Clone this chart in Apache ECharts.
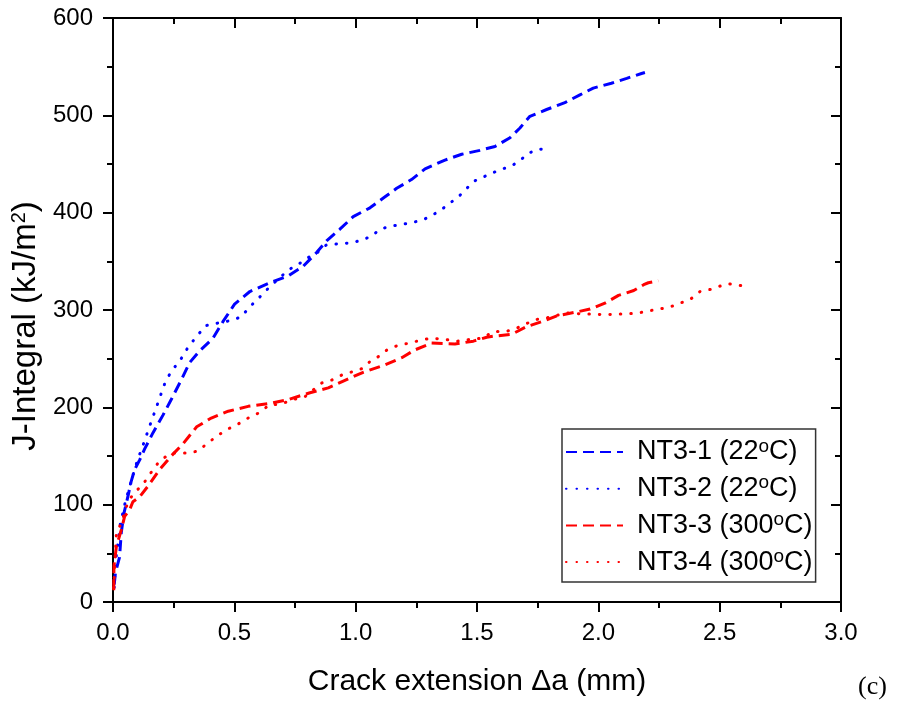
<!DOCTYPE html>
<html>
<head>
<meta charset="utf-8">
<script src="https://cdn.jsdelivr.net/npm/echarts@6/dist/echarts.min.js"></script>
<style>
html,body{margin:0;padding:0;background:#fff;}
#chart{width:901px;height:707px;}
</style>
</head>
<body>
<div id="chart"></div>
<script>
// ---- data ----
var seriesNames = ['NT3-1 (22oC)', 'NT3-2 (22oC)', 'NT3-3 (300oC)', 'NT3-4 (300oC)'];
var legendLabels = ['NT3-1 (22{sup|o}C)', 'NT3-2 (22{sup|o}C)', 'NT3-3 (300{sup|o}C)', 'NT3-4 (300{sup|o}C)'];
var xTickLabels = ['0.0', '0.5', '1.0', '1.5', '2.0', '2.5', '3.0'];
var yTickLabels = ['0', '100', '200', '300', '400', '500', '600'];

var nt31x = [0.005,0.01,0.027,0.034,0.045,0.062,0.075,0.089,0.11,0.13,0.165,0.206,0.24,0.281,0.316,0.357,0.412,0.453,0.501,0.564,0.647,0.722,0.784,0.839,0.88,0.935,0.99,1.059,1.114,1.169,1.23,1.286,1.368,1.437,1.512,1.574,1.636,1.677,1.718,1.787,1.862,1.924,1.979,2.054,2.117,2.178,2.192];
var nt31y = [18,30,46,71,91,109,124,136,146,157,174,192,208,228,246,258,271,288,306,319,328,335,345,359,371,383,396,405,415,425,434,445,454,460,464,468,477,487,499,506,513,521,528,533,538,543,544];

var nt32x = [0.005,0.01,0.02,0.03,0.05,0.077,0.1,0.125,0.15,0.18,0.214,0.24,0.276,0.31,0.345,0.383,0.44,0.482,0.53,0.558,0.592,0.626,0.695,0.729,0.77,0.805,0.842,0.88,0.929,0.983,1.028,1.066,1.1,1.141,1.19,1.237,1.281,1.32,1.358,1.395,1.43,1.458,1.485,1.52,1.565,1.606,1.643,1.684,1.711,1.752,1.798];
var nt32y = [15,40,60,80,102,126,145,162,180,201,225,237,248,262,273,284,287,289,293,302,310,319,335,342,348,354,359,367,368,369,372,376,383,386,388,390,393,398,404,411,418,425,432,436,441,445,448,455,461,465,466];

var nt33x = [0.003,0.004,0.014,0.034,0.048,0.069,0.082,0.11,0.144,0.192,0.24,0.29,0.345,0.405,0.475,0.557,0.647,0.722,0.812,0.887,0.949,1.031,1.114,1.19,1.244,1.313,1.409,1.485,1.54,1.567,1.643,1.705,1.767,1.829,1.911,1.966,2.027,2.083,2.146,2.187,2.206,2.247];
var nt33y = [12,37,57,74,88,95,103,108,119,136,150,163,180,189,196,201,204,208,215,220,227,236,243,251,259,266,265,268,272,273,275,283,288,294,298,301,307,315,320,326,328,330];

var nt34x = [0.003,0.007,0.014,0.034,0.062,0.087,0.124,0.151,0.192,0.24,0.302,0.35,0.384,0.426,0.467,0.51,0.557,0.599,0.647,0.688,0.743,0.791,0.86,0.901,0.949,0.993,1.028,1.063,1.1,1.134,1.18,1.221,1.268,1.31,1.364,1.42,1.478,1.523,1.567,1.62,1.66,1.739,1.787,1.87,1.93,1.98,2.024,2.075,2.117,2.165,2.206,2.25,2.295,2.334,2.364,2.391,2.419,2.46,2.494,2.535,2.59];
var nt34y = [14,35,71,81,103,112,121,131,145,153,153,155,162,170,177,182,189,194,203,203,208,211,225,228,234,237,240,248,253,260,264,266,269,271,270,268,270,271,278,278,281,290,292,297,296,296,295,296,296,297,299,301,303,307,309,313,319,321,324,327,325];

function pairs(xs, ys) { return xs.map(function (x, i) { return [x, ys[i]]; }); }

var FONT = "'Liberation Sans', Arial, sans-serif";
var dashPattern = [11, 6];
var dotPattern = [0.5, 10];

var chart = echarts.init(document.getElementById('chart'), null, { renderer: 'canvas' });

var axisLine = { show: true, onZero: false, lineStyle: { color: '#000', width: 2 } };
var tickStyle = { color: '#000', width: 2 };

var option = {
  backgroundColor: '#fff',
  animation: false,
  grid: { left: 113, right: 60, top: 18, bottom: 105, containLabel: false },
  xAxis: [{
    type: 'value', min: 0, max: 3, interval: 0.5, position: 'bottom',
    name: 'Crack extension \u0394a (mm)', nameLocation: 'middle', nameGap: 65,
    nameTextStyle: { fontFamily: FONT, fontSize: 30, color: '#000' },
    axisLine: axisLine,
    axisTick: { show: true, inside: false, length: 10, lineStyle: tickStyle },
    minorTick: { show: true, splitNumber: 2, length: 6, lineStyle: tickStyle },
    splitLine: { show: false },
    axisLabel: { fontFamily: FONT, fontSize: 24, color: '#000', margin: 19,
      formatter: function (v) { return xTickLabels[Math.round(v / 0.5)]; } }
  }, {
    type: 'value', min: 0, max: 3, interval: 0.5, position: 'top',
    axisLine: axisLine,
    axisTick: { show: true, inside: true, length: 10, lineStyle: tickStyle },
    minorTick: { show: true, splitNumber: 2, length: 6, lineStyle: tickStyle },
    splitLine: { show: false }, axisLabel: { show: false }
  }],
  yAxis: [{
    type: 'value', min: 0, max: 600, interval: 100, position: 'left',
    name: 'J-Integral (kJ/m{sup|2})', nameLocation: 'middle', nameGap: 64,
    nameTextStyle: { fontFamily: FONT, fontSize: 33, color: '#000', padding: [0, 32, 0, 0],
      rich: { sup: { fontFamily: FONT, fontSize: 20, verticalAlign: 'top', lineHeight: 16 } } },
    axisLine: axisLine,
    axisTick: { show: true, inside: false, length: 10, lineStyle: tickStyle },
    minorTick: { show: true, splitNumber: 2, length: 6, lineStyle: tickStyle },
    splitLine: { show: false },
    axisLabel: { fontFamily: FONT, fontSize: 24, color: '#000', margin: 20,
      formatter: function (v) { return yTickLabels[Math.round(v / 100)]; } }
  }, {
    type: 'value', min: 0, max: 600, interval: 100, position: 'right',
    axisLine: axisLine,
    axisTick: { show: true, inside: true, length: 10, lineStyle: tickStyle },
    minorTick: { show: true, splitNumber: 2, length: 6, lineStyle: tickStyle },
    splitLine: { show: false }, axisLabel: { show: false }
  }],
  legend: {
    orient: 'vertical', left: 562, top: 429,
    padding: [8, 3, 5, 3], itemGap: 6.7, itemWidth: 57, itemHeight: 14,
    borderColor: '#333', borderWidth: 1.5, backgroundColor: '#fff',
    data: seriesNames,
    itemStyle: { opacity: 0 },
    formatter: function (name) { return legendLabels[seriesNames.indexOf(name)]; },
    textStyle: { fontFamily: FONT, fontSize: 27, color: '#000', lineHeight: 30, padding: [0, 0, 0, 9],
      rich: { sup: { fontFamily: FONT, fontSize: 19, verticalAlign: 'top', lineHeight: 12, color: '#000' } } }
  },
  graphic: [{
    type: 'text', left: 858, top: 674,
    style: { text: '(c)', font: "26px 'Liberation Serif', 'Times New Roman', serif", fill: '#000' }
  }],
  series: [
    { name: seriesNames[0], type: 'line', data: pairs(nt31x, nt31y), showSymbol: false, symbol: 'none',
      lineStyle: { color: '#0000ff', width: 3, type: dashPattern } , itemStyle: { color: '#0000ff' } },
    { name: seriesNames[1], type: 'line', data: pairs(nt32x, nt32y), showSymbol: false, symbol: 'none',
      lineStyle: { color: '#0000ff', width: 3, type: dotPattern, cap: 'round' }, itemStyle: { color: '#0000ff' } },
    { name: seriesNames[2], type: 'line', data: pairs(nt33x, nt33y), showSymbol: false, symbol: 'none',
      lineStyle: { color: '#ff0000', width: 3, type: dashPattern }, itemStyle: { color: '#ff0000' } },
    { name: seriesNames[3], type: 'line', data: pairs(nt34x, nt34y), showSymbol: false, symbol: 'none',
      lineStyle: { color: '#ff0000', width: 3, type: dotPattern, cap: 'round' }, itemStyle: { color: '#ff0000' } }
  ]
};
chart.setOption(option);
</script>
</body>
</html>
